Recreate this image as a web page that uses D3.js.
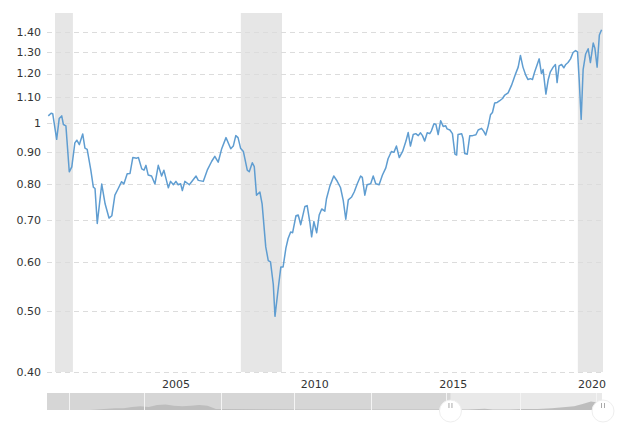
<!DOCTYPE html>
<html><head><meta charset="utf-8">
<script src="https://cdn.jsdelivr.net/npm/d3@7"></script>
<style>body{margin:0;background:#fff}svg{display:block}</style>
</head><body>
<svg id="c" width="630" height="429"></svg>
<script>
const years = [2001.01,2001.11,2001.17,2001.31,2001.40,2001.49,2001.55,2001.64,2001.76,2001.85,2001.96,2002.03,2002.12,2002.24,2002.32,2002.40,2002.53,2002.62,2002.68,2002.76,2002.92,2003.04,2003.18,2003.28,2003.39,2003.51,2003.63,2003.71,2003.83,2003.93,2004.03,2004.17,2004.23,2004.35,2004.43,2004.50,2004.58,2004.70,2004.82,2004.94,2005.06,2005.14,2005.30,2005.38,2005.48,2005.57,2005.65,2005.74,2005.80,2005.89,2006.05,2006.29,2006.37,2006.55,2006.69,2006.85,2006.96,2007.08,2007.20,2007.36,2007.53,2007.62,2007.71,2007.79,2007.88,2007.98,2008.12,2008.19,2008.30,2008.37,2008.45,2008.57,2008.65,2008.78,2008.87,2008.95,2009.05,2009.11,2009.23,2009.32,2009.40,2009.50,2009.58,2009.67,2009.74,2009.86,2009.94,2010.03,2010.18,2010.26,2010.36,2010.42,2010.50,2010.60,2010.69,2010.78,2010.89,2010.95,2011.07,2011.21,2011.33,2011.45,2011.55,2011.64,2011.73,2011.85,2011.94,2012.05,2012.17,2012.23,2012.32,2012.40,2012.53,2012.62,2012.71,2012.83,2012.95,2013.07,2013.15,2013.27,2013.36,2013.45,2013.55,2013.67,2013.79,2013.87,2013.95,2014.05,2014.14,2014.23,2014.31,2014.38,2014.46,2014.55,2014.64,2014.70,2014.79,2014.86,2014.94,2015.03,2015.12,2015.21,2015.26,2015.36,2015.45,2015.54,2015.60,2015.65,2015.78,2015.83,2015.89,2015.98,2016.07,2016.17,2016.29,2016.37,2016.49,2016.57,2016.64,2016.73,2016.81,2016.88,2016.96,2017.05,2017.14,2017.24,2017.32,2017.44,2017.56,2017.71,2017.80,2017.88,2017.97,2018.07,2018.15,2018.24,2018.31,2018.39,2018.48,2018.55,2018.63,2018.69,2018.79,2018.87,2018.95,2019.05,2019.13,2019.19,2019.26,2019.35,2019.43,2019.50,2019.58,2019.67,2019.76,2019.85,2019.92,2019.98,2020.05,2020.12,2020.21,2020.30,2020.38,2020.48,2020.54,2020.62,2020.70,2020.78];
const values = [1.027,1.037,1.035,0.942,1.017,1.027,0.995,0.990,0.836,0.851,0.930,0.939,0.924,0.961,0.912,0.908,0.841,0.790,0.786,0.691,0.799,0.743,0.705,0.711,0.767,0.786,0.806,0.799,0.830,0.831,0.881,0.879,0.881,0.845,0.841,0.856,0.826,0.823,0.799,0.856,0.823,0.841,0.788,0.807,0.797,0.807,0.797,0.800,0.780,0.807,0.797,0.823,0.810,0.807,0.841,0.869,0.885,0.866,0.908,0.948,0.910,0.919,0.955,0.948,0.912,0.901,0.841,0.836,0.864,0.852,0.767,0.776,0.743,0.634,0.603,0.600,0.552,0.491,0.546,0.589,0.589,0.631,0.654,0.670,0.668,0.711,0.713,0.688,0.736,0.738,0.692,0.658,0.696,0.668,0.713,0.729,0.723,0.757,0.793,0.823,0.808,0.789,0.752,0.702,0.754,0.762,0.776,0.800,0.823,0.819,0.767,0.797,0.800,0.823,0.800,0.797,0.826,0.848,0.877,0.901,0.898,0.919,0.881,0.901,0.936,0.966,0.919,0.959,0.962,0.955,0.965,0.955,0.936,0.965,0.962,0.972,0.998,0.995,0.959,1.009,0.988,0.990,0.979,0.975,0.962,0.892,0.889,0.959,0.962,0.945,0.894,0.892,0.955,0.955,0.958,0.975,0.981,0.970,0.957,0.990,1.031,1.040,1.077,1.079,1.086,1.095,1.109,1.118,1.149,1.200,1.229,1.283,1.229,1.193,1.174,1.178,1.174,1.208,1.241,1.267,1.200,1.218,1.113,1.172,1.208,1.229,1.241,1.161,1.235,1.241,1.226,1.241,1.250,1.267,1.297,1.306,1.300,1.172,1.014,1.218,1.290,1.315,1.250,1.343,1.318,1.229,1.383,1.410];

const recessionStarts = [2001.25, 2007.89, 2019.93];
const recessionEnds = [2001.89, 2009.36, 2020.83];

const yTicks = [0.4,0.5,0.6,0.7,0.8,0.9,1,1.1,1.2,1.3,1.4];
const yTickLabels = ["0.40","0.50","0.60","0.70","0.80","0.90","1","1.10","1.20","1.30","1.40"];
const xTicks = [2005, 2010, 2015, 2020];

const navGrid = [2001.75, 2004.43, 2007.18, 2009.79, 2012.54, 2015.21, 2017.86, 2020.57];
const navYears = [2001.0,2002.5,2003.0,2003.4,2003.7,2004.0,2004.3,2004.6,2004.9,2005.2,2005.5,2005.8,2006.1,2006.4,2006.7,2007.0,2010.0,2015.0,2016.0,2016.6,2016.9,2017.5,2018.0,2018.5,2019.0,2019.5,2019.8,2020.1,2020.4,2020.8];
const navValues = [0,0,0.6,1,1,1.8,2.2,1.8,3,3.2,2.5,2.2,2.5,3,2.5,0.6,0.3,0.3,0.3,0.8,0.3,0.3,0.6,0.6,1,1.8,2.2,3.5,5,4];
const navSelection = [2015.38, 2020.83];

const svg = d3.select("#c");
const x = d3.scaleLinear().domain([2001, 2020.83]).range([48, 603]);
const y = d3.scaleLog().domain([0.4, 1.5]).range([372, 13]);
const font = "DejaVu Sans, Verdana, sans-serif";

// recession shading
svg.append("g").selectAll("rect").data(recessionStarts).join("rect")
  .attr("x", (d) => x(d)).attr("y", y(1.5))
  .attr("width", (d, i) => x(recessionEnds[i]) - x(d))
  .attr("height", y(0.4) - y(1.5))
  .attr("fill", "#e6e6e6");

// grid
svg.append("g").selectAll("line").data(yTicks).join("line")
  .attr("x1", 47).attr("x2", 603)
  .attr("y1", (d) => Math.round(y(d)) + 0.5).attr("y2", (d) => Math.round(y(d)) + 0.5)
  .attr("stroke", "#dcdcdc").attr("stroke-width", 1).attr("stroke-dasharray", "5,4");

// y labels
svg.append("g").selectAll("text").data(yTicks).join("text")
  .attr("x", 41).attr("y", (d) => y(d)).attr("dy", "0.35em")
  .attr("text-anchor", "end").attr("font-family", font).attr("font-size", 11)
  .attr("fill", "#333").text((d, i) => yTickLabels[i]);

// x labels
svg.append("g").selectAll("text").data(xTicks).join("text")
  .attr("x", (d) => x(d) + 2 - (d - 2005) * 0.25).attr("y", 388)
  .attr("text-anchor", "start").attr("font-family", font).attr("font-size", 11)
  .attr("fill", "#333").text((d) => d);

// line
const pts = years.map((t, i) => [t, values[i]]);
svg.append("path").datum(pts)
  .attr("d", d3.line().x((d) => x(d[0])).y((d) => y(d[1])))
  .attr("fill", "none").attr("stroke", "#5f9dd1").attr("stroke-width", 1.5)
  .attr("stroke-linejoin", "round");

// navigator
const navTop = 393, navBot = 410;
const ny = d3.scaleLinear().domain([0, 10]).range([navBot, navTop]);
svg.append("rect").attr("x", 47).attr("y", navTop).attr("width", 602 - 47).attr("height", navBot - navTop).attr("fill", "#d6d6d6");
svg.append("rect").attr("x", x(navSelection[0])).attr("y", navTop)
  .attr("width", 602 - x(navSelection[0])).attr("height", navBot - navTop).attr("fill", "#e9e9e9");
const navPts = navYears.map((t, i) => [t, navValues[i]]);
svg.append("path").datum(navPts)
  .attr("d", d3.area().x((d) => x(d[0])).y0(navBot).y1((d) => ny(d[1])))
  .attr("fill", "#bdbdbd");
svg.append("g").selectAll("line").data(navGrid).join("line")
  .attr("x1", (d) => Math.round(x(d)) + 0.5).attr("x2", (d) => Math.round(x(d)) + 0.5)
  .attr("y1", navTop).attr("y2", navBot).attr("stroke", "#f4f4f4").attr("stroke-width", 1);
const handles = svg.append("g").selectAll("g").data(navSelection).join("g")
  .attr("transform", (d) => `translate(${x(d)},${navBot + 1})`);
handles.append("circle").attr("r", 11).attr("fill", "#fff").attr("stroke", "#eee");
handles.append("line").attr("x1", -1.5).attr("x2", -1.5).attr("y1", -8).attr("y2", -3).attr("stroke", "#aaa");
handles.append("line").attr("x1", 1.5).attr("x2", 1.5).attr("y1", -8).attr("y2", -3).attr("stroke", "#aaa");
</script>
</body></html>
